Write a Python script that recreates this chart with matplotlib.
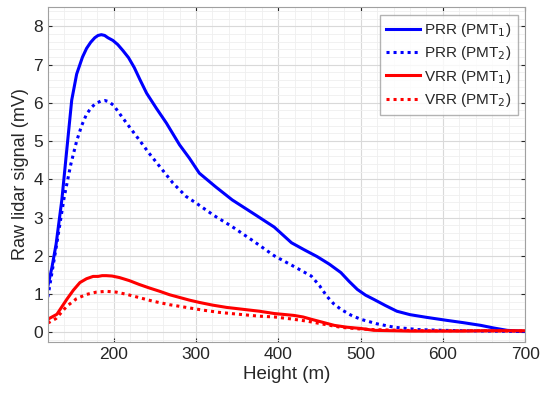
import numpy as np
import matplotlib
matplotlib.use('Agg')
import matplotlib.pyplot as plt
from matplotlib.ticker import MultipleLocator

plt.rcParams['font.family'] = ['Liberation Sans', 'DejaVu Sans']

# PRR channel, PMT 1 (solid blue)
h_prr1 = [120, 125, 130, 137, 143, 149, 155, 162, 167, 172, 177, 181, 185, 189, 193, 199, 205,
          211, 218, 225, 232, 240, 252, 264, 280, 292, 304, 324, 344, 370, 395, 416, 432, 447,
          462, 476, 486, 496, 506, 516, 530, 544, 560, 580, 605, 625, 646, 662, 678, 700]
v_prr1 = [1.2, 1.7, 2.3, 3.46, 4.77, 6.07, 6.75, 7.19, 7.42, 7.58, 7.7, 7.76, 7.78, 7.76, 7.7,
          7.63, 7.52, 7.37, 7.18, 6.92, 6.6, 6.25, 5.85, 5.47, 4.9, 4.55, 4.16, 3.8, 3.46, 3.1,
          2.75, 2.34, 2.15, 1.98, 1.78, 1.56, 1.33, 1.12, 0.97, 0.86, 0.7, 0.55, 0.46, 0.39, 0.31,
          0.25, 0.18, 0.11, 0.05, 0.02]

# PRR channel, PMT 2 (dotted blue)
h_prr2 = [120, 130, 140, 148, 155, 161, 167, 173, 178, 184, 189, 194, 200, 207, 218, 231, 243,
          256, 272, 288, 300, 322, 344, 370, 395, 419, 440, 450, 459, 467, 476, 488, 500, 520,
          541, 570, 600, 650, 700]
v_prr2 = [0.92, 2.2, 3.55, 4.4, 5.0, 5.4, 5.7, 5.88, 5.98, 6.04, 6.06, 6.03, 5.93, 5.72, 5.4,
          5.03, 4.68, 4.33, 3.9, 3.55, 3.38, 3.05, 2.76, 2.38, 2.0, 1.72, 1.47, 1.22, 0.94, 0.75,
          0.6, 0.45, 0.34, 0.22, 0.13, 0.07, 0.05, 0.03, 0.02]

# VRR channel, PMT 1 (solid red)
h_vrr1 = [120, 131, 143, 151, 159, 167, 175, 181, 186, 191, 198, 207, 219, 231, 243, 256, 268,
          280, 292, 304, 320, 337, 357, 377, 395, 419, 430, 440, 454, 468, 484, 500, 516, 540,
          560, 590, 620, 650, 680, 700]
v_vrr1 = [0.34, 0.47, 0.86, 1.1, 1.3, 1.4, 1.46, 1.46, 1.48, 1.48, 1.47, 1.43, 1.35, 1.25, 1.16,
          1.07, 0.98, 0.91, 0.84, 0.78, 0.71, 0.65, 0.6, 0.55, 0.49, 0.44, 0.4, 0.34, 0.26, 0.18,
          0.13, 0.1, 0.05, 0.04, 0.03, 0.03, 0.03, 0.04, 0.04, 0.04]

# VRR channel, PMT 2 (dotted red)
h_vrr2 = [120, 130, 143, 155, 167, 179, 191, 203, 216, 232, 248, 268, 288, 308, 328, 352, 377,
          395, 415, 435, 455, 476, 496, 516, 550, 580, 640, 700]
v_vrr2 = [0.24, 0.36, 0.68, 0.88, 0.99, 1.05, 1.07, 1.05, 0.99, 0.9, 0.81, 0.72, 0.65, 0.58,
          0.52, 0.47, 0.42, 0.4, 0.35, 0.29, 0.21, 0.13, 0.09, 0.07, 0.05, 0.04, 0.04, 0.03]

text_col = '#262626'

fig = plt.figure(figsize=(5.5, 3.97), dpi=100)
ax = fig.add_axes([0.087, 0.139, 0.868, 0.843])

ax.plot(h_prr1, v_prr1, color='#0000ff', lw=2.2, label='PRR (PMT$_1$)')
ax.plot(h_prr2, v_prr2, color='#0000ff', lw=2.2, ls=(0, (1, 1.3)), label='PRR (PMT$_2$)')
ax.plot(h_vrr1, v_vrr1, color='#ff0000', lw=2.2, label='VRR (PMT$_1$)')
ax.plot(h_vrr2, v_vrr2, color='#ff0000', lw=2.2, ls=(0, (1, 1.3)), label='VRR (PMT$_2$)')

ax.set_xlim(120, 700)
ax.set_ylim(-0.25, 8.5)
ax.xaxis.set_major_locator(MultipleLocator(100))
ax.xaxis.set_minor_locator(MultipleLocator(20))
ax.yaxis.set_major_locator(MultipleLocator(1))
ax.yaxis.set_minor_locator(MultipleLocator(0.2))
ax.grid(True, which='major', color='#d9d9d9', lw=0.8)
ax.grid(True, which='minor', color='#efefef', lw=0.6)
ax.set_axisbelow(True)
ax.tick_params(which='both', direction='in', top=True, right=True, colors=text_col,
               labelsize=12.5, length=3)
ax.tick_params(which='minor', length=0)
for sp in ax.spines.values():
    sp.set_color('#a0a0a0')

ax.set_xlabel('Height (m)', fontsize=13.5, color=text_col, labelpad=3)
ax.set_ylabel('Raw lidar signal (mV)', fontsize=13, color=text_col, labelpad=3)

leg = ax.legend(loc='upper right', fontsize=11, frameon=True, fancybox=False,
                edgecolor='#a0a0a0', handlelength=2.2, handletextpad=0.3,
                borderaxespad=0.5, labelspacing=0.35)
for t in leg.get_texts():
    t.set_color(text_col)

fig.savefig('out.png', dpi=100)
